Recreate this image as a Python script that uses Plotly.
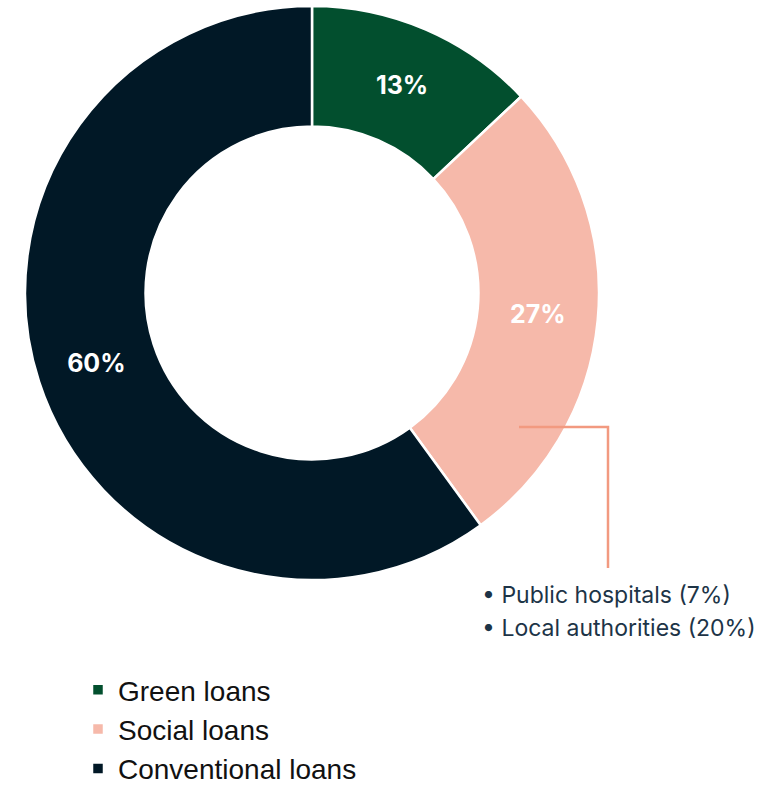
import plotly.graph_objects as go

W, H = 779, 786

categories = ["Green loans", "Social loans", "Conventional loans"]
shares = [13, 27, 60]
colors = ["#024F2E", "#F6B9AA", "#011826"]
social_breakdown = ["Public hospitals (7%)", "Local authorities (20%)"]

def px(x):  # page pixel -> paper x
    return x / W

def py(y):  # page pixel -> paper y
    return 1 - y / H

cx, cy, R = 312, 293, 287

fig = go.Figure()
fig.add_trace(go.Pie(
    labels=categories,
    values=shares,
    hole=0.58,
    sort=False,
    direction="clockwise",
    rotation=0,
    marker=dict(colors=colors, line=dict(color="white", width=2.5)),
    texttemplate="%{value}%",
    textposition="inside",
    insidetextorientation="horizontal",
    textfont=dict(family="Inter", size=25, color="white", weight="bold"),
    hoverinfo="label+percent",
    domain=dict(x=[px(cx - R), px(cx + R)], y=[py(cy + R), py(cy - R)]),
    showlegend=True,
))

# leader line for social loans breakdown
fig.add_shape(
    type="path",
    path=f"M {px(519)} {py(427)} L {px(608)} {py(427)} L {px(608)} {py(568)}",
    xref="paper", yref="paper",
    line=dict(color="#F29A80", width=2.5),
)

for i, t in enumerate(social_breakdown):
    fig.add_annotation(
        x=px(480), y=py(595 + 33 * i), xref="paper", yref="paper",
        xanchor="left", yanchor="middle", showarrow=False,
        text="• " + t,
        font=dict(family="Inter", size=23, color="#1D3447"),
    )

fig.update_layout(
    width=W, height=H,
    margin=dict(l=0, r=0, t=0, b=0, autoexpand=False),
    paper_bgcolor="white",
    plot_bgcolor="white",
    legend=dict(
        x=px(78), y=py(665), xanchor="left", yanchor="top",
        font=dict(family="Liberation Sans, Arial", size=28, color="#111111"),
        bgcolor="rgba(0,0,0,0)",
    ),
)

fig.write_html(
    "out.html",
    config={"displayModeBar": False},
    post_script="document.body.style.margin='0';document.body.style.overflow='hidden';",
)
